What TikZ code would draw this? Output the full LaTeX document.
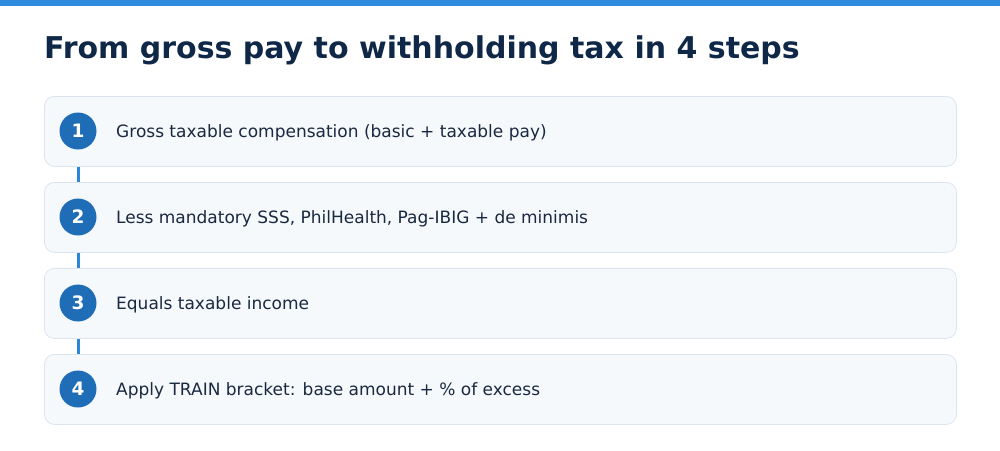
\documentclass[tikz,border=0pt]{standalone}
\usepackage{fontspec}
\setmainfont{DejaVu Sans}
\definecolor{topbar}{HTML}{2E8BDD}
\definecolor{titlec}{HTML}{0F2847}
\definecolor{boxfill}{HTML}{F5F9FC}
\definecolor{boxline}{HTML}{DCE5EF}
\definecolor{circc}{HTML}{1E6DB6}
\definecolor{textc}{HTML}{1A2840}
\definecolor{linkc}{HTML}{2E86D6}
\tikzset{
  stepbox/.style={draw=boxline, line width=0.8pt, fill=boxfill, rounded corners=10pt, minimum width=912pt, minimum height=70pt, inner sep=0pt, anchor=north west},
  numcirc/.style={circle, fill=circc, minimum size=37pt, inner sep=0pt, text=white, font=\fontsize{18.5}{18}\selectfont\bfseries},
  steptext/.style={anchor=base west, text=textc, font=\fontsize{17}{20}\selectfont, inner sep=0pt},
  link/.style={draw=linkc, line width=3pt}
}
\begin{document}
\begin{tikzpicture}[x=1pt,y=-1pt]
\useasboundingbox (0,0) rectangle (1000,450);
\fill[topbar] (0,0) rectangle (1000,6);
\node[anchor=base west, text=titlec, font=\fontsize{30}{34}\selectfont\bfseries, inner sep=0pt] (title) at (44,58) {From gross pay to withholding tax in 4 steps};
\foreach \i/\y/\t in {1/96/{Gross taxable compensation (basic + taxable pay)},
                     2/182/{Less mandatory SSS, PhilHealth, Pag-IBIG + de minimis},
                     3/268/{Equals taxable income},
                     4/354/{Apply TRAIN bracket: base amount + \% of excess}} {
  \node[stepbox] (b\i) at (44,\y) {};
  \node[numcirc] (c\i) at (78,\y+35) {\i};
  \node[steptext] (t\i) at (116,\y+41) {\t};
}
\foreach \a/\b in {1/2,2/3,3/4} {
  \draw[link] (c\a.center |- b\a.south) -- (c\b.center |- b\b.north);
}
\end{tikzpicture}
\end{document}
